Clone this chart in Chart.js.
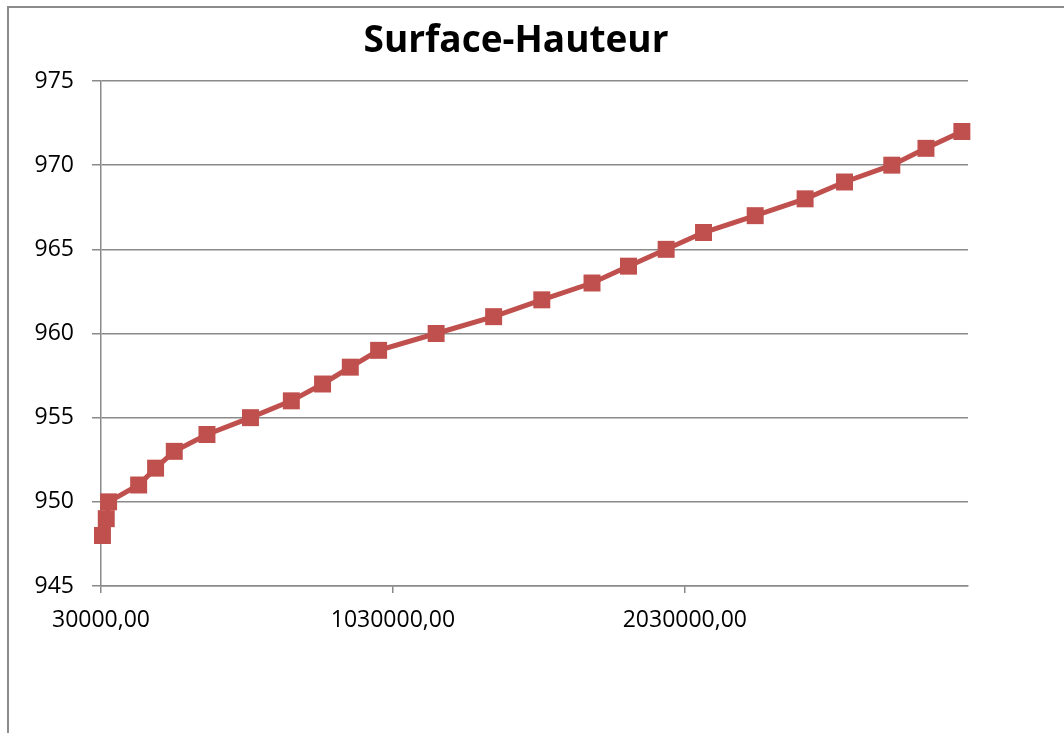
<!DOCTYPE html>
<html lang="fr">
<head>
<meta charset="utf-8">
<title>Surface-Hauteur</title>
<script src="https://cdn.jsdelivr.net/npm/chart.js@4/dist/chart.umd.min.js"></script>
<style>
    html, body { margin: 0; padding: 0; background: #fff; }
    #wrap { width: 1064px; height: 733px; position: relative; }
</style>
</head>
<body>
<div id="wrap"><canvas id="surfaceChart" width="1064" height="733"></canvas></div>
<script>
// Surface (m²) en abscisse, hauteur en ordonnée
const surfaces = [35000, 48000, 56000, 159000, 217000, 281000, 393000, 542000, 682000, 789000,
    884000, 981000, 1178000, 1375000, 1540000, 1712000, 1837000, 1966000, 2094000, 2271000,
    2442000, 2577000, 2739000, 2856000, 2979000];
const hauteurs = [948, 949, 950, 951, 952, 953, 954, 955, 956, 957,
    958, 959, 960, 961, 962, 963, 964, 965, 966, 967,
    968, 969, 970, 971, 972];
const xTicks = [30000, 1030000, 2030000];
const yTicks = [945, 950, 955, 960, 965, 970, 975];

const gridColor = '#8a8a8a';
const serieColor = '#C0504D';
const labelFont = { family: 'Open Sans', size: 23 };

// Cadre du graphique (bords haut et gauche)
const cadre = {
    id: 'cadre',
    beforeDraw(chart) {
        const ctx = chart.ctx;
        ctx.save();
        ctx.strokeStyle = '#8c8c8c';
        ctx.lineWidth = 2;
        ctx.beginPath();
        ctx.moveTo(8, 733);
        ctx.lineTo(8, 7);
        ctx.lineTo(1064, 7);
        ctx.stroke();
        ctx.restore();
    }
};

const points = surfaces.map((s, i) => ({ x: s, y: hauteurs[i] }));

new Chart(document.getElementById('surfaceChart'), {
    type: 'scatter',
    data: {
        datasets: [{
            label: 'Hauteur',
            data: points,
            showLine: true,
            clip: false,
            borderColor: serieColor,
            borderWidth: 5,
            backgroundColor: serieColor,
            pointStyle: 'rect',
            pointRadius: 12,
            pointBorderWidth: 0,
            pointBackgroundColor: serieColor,
            tension: 0
        }]
    },
    options: {
        responsive: false,
        animation: false,
        layout: { padding: { top: 0, right: 32, bottom: 0, left: 0 } },
        plugins: {
            legend: { display: false },
            tooltip: { enabled: false },
            title: {
                display: true,
                text: 'Surface-Hauteur',
                color: '#000',
                font: { family: 'Open Sans', size: 37, weight: 'bold', lineHeight: 1.2 },
                padding: { top: 19.3, bottom: 17.3 }
            }
        },
        scales: {
            x: {
                type: 'linear',
                min: 30000,
                max: 3000000,
                afterBuildTicks: (scale) => {
                    scale.ticks = xTicks.map(v => ({ value: v }));
                },
                afterFit: (scale) => { scale.height = 147; },
                grid: {
                    drawOnChartArea: false,
                    drawTicks: true,
                    tickLength: 7,
                    color: gridColor,
                    lineWidth: 1.5
                },
                border: { color: gridColor, width: 1.5 },
                ticks: {
                    color: '#000',
                    font: labelFont,
                    padding: 14,
                    maxRotation: 0,
                    autoSkip: false,
                    callback: (v) => v.toFixed(2).replace('.', ',')
                }
            },
            y: {
                min: 945,
                max: 975,
                afterBuildTicks: (scale) => {
                    scale.ticks = yTicks.map(v => ({ value: v }));
                },
                afterFit: (scale) => { scale.width = 101; },
                grid: {
                    drawTicks: true,
                    tickLength: 9,
                    color: gridColor,
                    lineWidth: 1.5
                },
                border: { color: gridColor, width: 1.5 },
                ticks: {
                    color: '#000',
                    font: labelFont,
                    padding: 18
                }
            },
            // marge droite réservée, rien n'y est dessiné
            marge: {
                position: 'right',
                display: true,
                afterFit: (scale) => { scale.width = 64; },
                grid: { display: false, drawTicks: false },
                border: { display: false },
                ticks: { display: false }
            }
        }
    },
    plugins: [cadre]
});
</script>
</body>
</html>
